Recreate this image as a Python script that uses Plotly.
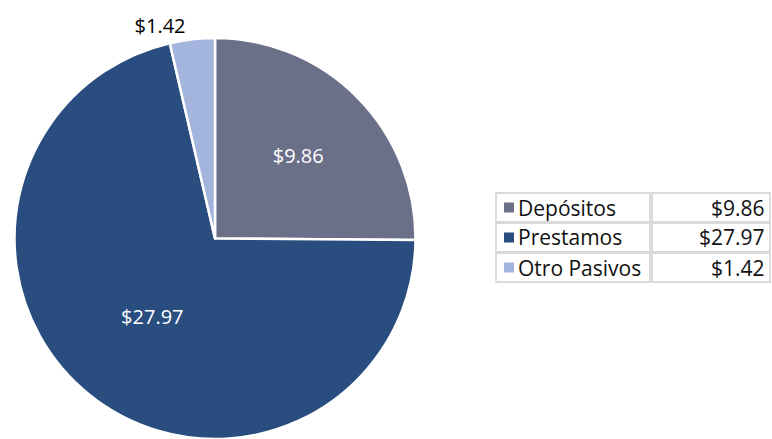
import plotly.graph_objects as go

labels = ["Depósitos", "Prestamos", "Otro Pasivos"]
values = [9.86, 27.97, 1.42]
colors = ["#6b7089", "#284d7e", "#a3b4dd"]
text_labels = ["$9.86", "$27.97", "$1.42"]

W, H = 772, 439
FONT = "'Open Sans', sans-serif"

def px(x):
    return x / W

def py(y):
    return 1 - y / H

fig = go.Figure()
fig.add_trace(go.Pie(
    labels=labels,
    values=values,
    text=text_labels,
    textinfo="text",
    sort=False,
    direction="clockwise",
    rotation=0,
    marker=dict(colors=colors, line=dict(color="white", width=2.5)),
    textposition=["inside", "inside", "outside"],
    insidetextorientation="horizontal",
    insidetextfont=dict(color="white", size=20, family=FONT),
    outsidetextfont=dict(color="black", size=20, family=FONT),
    domain=dict(x=[px(12), px(418)], y=[py(439), py(38)]),
    showlegend=False,
    automargin=False,
))

shapes = []
annotations = []
row_top = 193
row_h = 30
for i, (lab, val, col) in enumerate(zip(labels, text_labels, colors)):
    y0 = row_top + i * row_h
    y1 = y0 + row_h - 1
    for (x0, x1) in [(496, 650), (652, 770)]:
        shapes.append(dict(type="rect", xref="paper", yref="paper",
                           x0=px(x0), x1=px(x1), y0=py(y1), y1=py(y0),
                           line=dict(color="#d9d9d9", width=1.8), fillcolor="rgba(0,0,0,0)"))
    yc = (y0 + y1) / 2
    shapes.append(dict(type="rect", xref="paper", yref="paper",
                       x0=px(504), x1=px(514), y0=py(yc + 5), y1=py(yc - 5),
                       line=dict(width=0), fillcolor=col))
    annotations.append(dict(x=px(516), y=py(yc), xref="paper", yref="paper",
                            text=lab, showarrow=False, xanchor="left", yanchor="middle",
                            font=dict(size=21, color="#111111", family=FONT)))
    annotations.append(dict(x=px(767), y=py(yc), xref="paper", yref="paper",
                            text=val, showarrow=False, xanchor="right", yanchor="middle",
                            font=dict(size=21, color="#111111", family=FONT)))

fig.update_layout(
    width=W, height=H,
    margin=dict(l=0, r=0, t=0, b=0),
    paper_bgcolor="white",
    plot_bgcolor="white",
    shapes=shapes,
    annotations=annotations,
)

fig.write_html("out.html", config={"displayModeBar": False},
               post_script="document.body.style.margin='0';document.body.style.overflow='hidden';")
